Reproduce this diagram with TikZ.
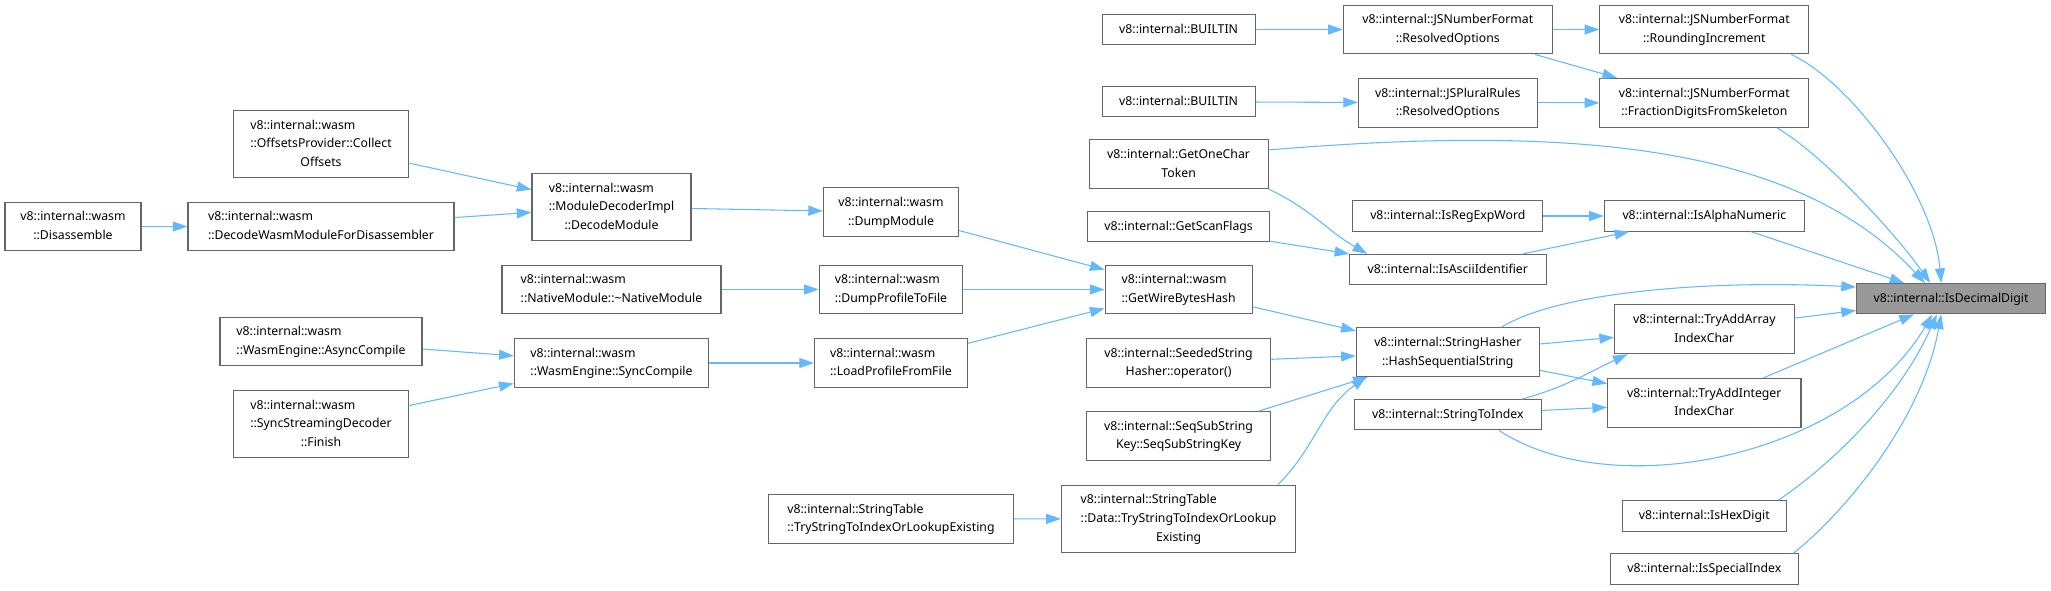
\documentclass[tikz,border=0pt]{standalone}
\usepackage{fontspec}
\setmainfont{Noto Sans}
\usetikzlibrary{arrows.meta}
\definecolor{edgeblue}{RGB}{99,184,255}
\definecolor{boxline}{RGB}{102,102,102}
\definecolor{focus}{RGB}{153,153,153}
% all lines but the last flush left, the last one centred
\newcommand{\twoline}[2]{\begin{tabular}{@{}l@{}}#1\\\multicolumn{1}{@{}c@{}}{#2}\end{tabular}}

\begin{document}
\begin{tikzpicture}[x=0.75pt,y=0.75pt,
  fn/.style={draw=boxline,fill=white,line width=0.8pt,inner xsep=4pt,inner ysep=4.4pt,
             font=\fontsize{9.2}{13.9}\selectfont,execute at begin node=\strut},
  wd/.style={minimum width=#1*0.75pt},
  call/.style={draw=edgeblue,line width=0.8pt,-{Triangle[length=11pt,width=7.5pt]}}]
  \useasboundingbox (0,0) rectangle (2051,-590);
  % wasm callers
  \node[fn,wd=136] (disasm) at (73,-226.5) {\twoline{v8::internal::wasm}{::Disassemble}};
  \node[fn,wd=266] (decodewasm) at (321,-226.5) {\twoline{v8::internal::wasm}{::DecodeWasmModuleForDisassembler}};
  \node[fn,wd=175.5] (collect) at (321,-144) {\twoline{v8::internal::wasm\\::OffsetsProvider::Collect}{Offsets}};
  \node[fn,wd=202] (async) at (321,-341.5) {\twoline{v8::internal::wasm}{::WasmEngine::AsyncCompile}};
  \node[fn,wd=174.4] (syncstream) at (321,-424) {\twoline{v8::internal::wasm\\::SyncStreamingDecoder}{::Finish}};
  \node[fn,wd=159] (decodemod) at (611.5,-207) {\twoline{v8::internal::wasm\\::ModuleDecoderImpl}{::DecodeModule}};
  \node[fn,wd=219] (native) at (611.5,-289.5) {\twoline{v8::internal::wasm}{::NativeModule::\textasciitilde NativeModule}};
  \node[fn,wd=194.5] (synccomp) at (611.5,-363) {\twoline{v8::internal::wasm}{::WasmEngine::SyncCompile}};
  \node[fn,wd=135] (dumpmod) at (891,-212.2) {\twoline{v8::internal::wasm}{::DumpModule}};
  \node[fn,wd=143.5] (dumpprof) at (891,-289.5) {\twoline{v8::internal::wasm}{::DumpProfileToFile}};
  \node[fn,wd=153] (loadprof) at (891,-363) {\twoline{v8::internal::wasm}{::LoadProfileFromFile}};
  \node[fn,wd=245] (sttry) at (891,-519) {\twoline{v8::internal::StringTable}{::TryStringToIndexOrLookupExisting}};
  % middle column
  \node[fn,wd=153] (builtina) at (1178.6,-29.5) {v8::internal::BUILTIN};
  \node[fn,wd=153] (builtinb) at (1178.6,-101.7) {v8::internal::BUILTIN};
  \node[fn,wd=179] (onechar) at (1178.6,-164.2) {\twoline{v8::internal::GetOneChar}{Token}};
  \node[fn,wd=182.5] (scanflags) at (1178.6,-226.7) {v8::internal::GetScanFlags};
  \node[fn,wd=147] (wirehash) at (1178.6,-289.5) {\twoline{v8::internal::wasm}{::GetWireBytesHash}};
  \node[fn,wd=184.4] (seeded) at (1178.6,-363) {\twoline{v8::internal::SeededString}{Hasher::operator()}};
  \node[fn,wd=184] (seqsub) at (1178.6,-436) {\twoline{v8::internal::SeqSubString}{Key::SeqSubStringKey}};
  \node[fn,wd=234.4] (stdata) at (1178.6,-518.8) {\twoline{v8::internal::StringTable\\::Data::TryStringToIndexOrLookup}{Existing}};
  \node[fn,wd=209] (nfresolved) at (1447.8,-29.5) {\twoline{v8::internal::JSNumberFormat}{::ResolvedOptions}};
  \node[fn,wd=178.5] (prresolved) at (1447.8,-102.8) {\twoline{v8::internal::JSPluralRules}{::ResolvedOptions}};
  \node[fn,wd=190] (regexp) at (1447.8,-216) {v8::internal::IsRegExpWord};
  \node[fn,wd=197.5] (ascii) at (1447.8,-269.5) {v8::internal::IsAsciiIdentifier};
  \node[fn,wd=183] (hashseq) at (1447.8,-352.2) {\twoline{v8::internal::StringHasher}{::HashSequentialString}};
  \node[fn,wd=186.5] (str2idx) at (1447.8,-414.8) {v8::internal::StringToIndex};
  % direct callers
  \node[fn,wd=209] (rounding) at (1704.3,-29.5) {\twoline{v8::internal::JSNumberFormat}{::RoundingIncrement}};
  \node[fn,wd=209] (fraction) at (1704.3,-102.8) {\twoline{v8::internal::JSNumberFormat}{::FractionDigitsFromSkeleton}};
  \node[fn,wd=200] (alnum) at (1704.3,-216) {v8::internal::IsAlphaNumeric};
  \node[fn,wd=179.5] (tryarray) at (1704.3,-329.3) {\twoline{v8::internal::TryAddArray}{IndexChar}};
  \node[fn,wd=193.4] (tryint) at (1704.3,-402.8) {\twoline{v8::internal::TryAddInteger}{IndexChar}};
  \node[fn,wd=164.5] (hexdigit) at (1704.3,-516) {v8::internal::IsHexDigit};
  \node[fn,wd=188.5] (special) at (1704.3,-569) {v8::internal::IsSpecialIndex};
  \node[fn,wd=189,fill=focus] (decimal) at (1951,-298.7) {v8::internal::IsDecimalDigit};

  \draw[call] (disasm) -- (decodewasm);
  \draw[call] (decodewasm) -- (decodemod);
  \draw[call] (collect) -- (decodemod);
  \draw[call] (decodemod) -- (dumpmod);
  \draw[call] (dumpmod) -- (wirehash);
  \draw[call] (native) -- (dumpprof);
  \draw[call] (dumpprof) -- (wirehash);
  \draw[call] (async) -- (synccomp);
  \draw[call] (syncstream) -- (synccomp);
  \draw[call] (synccomp) -- (loadprof);
  \draw[call] (loadprof) -- (wirehash);
  \draw[call] (wirehash) -- (hashseq);
  \draw[call] (seeded) -- (hashseq);
  \draw[call] (seqsub) -- (hashseq);
  \draw[call] (sttry) -- (stdata);
  \draw[call] (stdata.19) to[out=45,in=215] (hashseq.197);
  \draw[call] (builtina) -- (nfresolved);
  \draw[call] (builtinb) -- (prresolved);
  \draw[call] (nfresolved) -- (rounding);
  \draw[call] (nfresolved) -- (fraction);
  \draw[call] (prresolved) -- (fraction);
  \draw[call] (onechar.south east) to[out=-25,in=150] (ascii.169);
  \draw[call] (scanflags) -- (ascii);
  \draw[call] (regexp) -- (alnum);
  \draw[call] (ascii) -- (alnum);
  \draw[call] (hashseq) -- (tryarray);
  \draw[call] (hashseq) -- (tryint);
  \draw[call] (str2idx.12) to[out=15,in=205] (tryarray.198);
  \draw[call] (str2idx) -- (tryint);
  % into IsDecimalDigit
  \draw[call] (onechar.9) .. controls +(300,25) and +(-130,140) .. (decimal.149);
  \draw[call] (rounding.-16) .. controls +(60,-28) and +(-8,90) .. (decimal.122);
  \draw[call] (fraction.-19) .. controls +(45,-26) and +(-35,50) .. (decimal.143);
  \draw[call] (alnum) -- (decimal);
  \draw[call] (hashseq.25) .. controls +(60,37) and +(-137,7) .. (decimal.173);
  \draw[call] (tryarray) -- (decimal);
  \draw[call] (tryint) -- (decimal);
  \draw[call] (str2idx.-17) .. controls +(115,-75) and +(-83,-142) .. (decimal.220);
  \draw[call] (hexdigit.12) .. controls +(45,30) and +(-40,-90) .. (decimal.228);
  \draw[call] (special.10) .. controls +(45,35) and +(-20,-110) .. (decimal.238);
\end{tikzpicture}
\end{document}
